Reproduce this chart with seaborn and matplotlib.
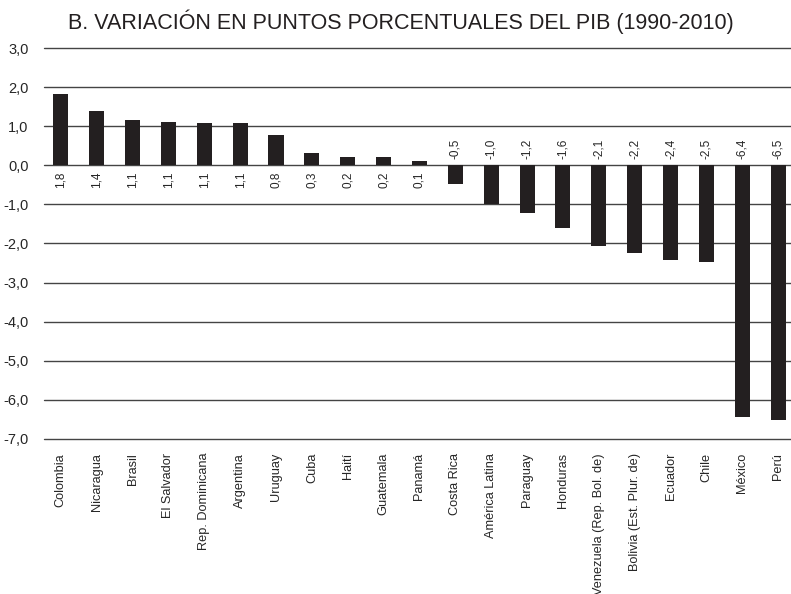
import numpy as np
import pandas as pd
import matplotlib
matplotlib.use("Agg")
import matplotlib.pyplot as plt
import seaborn as sns

countries = ["Colombia", "Nicaragua", "Brasil", "El Salvador", "Rep. Dominicana",
             "Argentina", "Uruguay", "Cuba", "Haití", "Guatemala", "Panamá",
             "Costa Rica", "América Latina", "Paraguay", "Honduras",
             "Venezuela (Rep. Bol. de)", "Bolivia (Est. Plur. de)", "Ecuador",
             "Chile", "México", "Perú"]
values = [1.82, 1.38, 1.15, 1.12, 1.09, 1.07, 0.78, 0.32, 0.22, 0.22, 0.12,
          -0.47, -1.0, -1.22, -1.6, -2.07, -2.24, -2.42, -2.48, -6.44, -6.52]
labels = ["1,8", "1,4", "1,1", "1,1", "1,1", "1,1", "0,8", "0,3", "0,2", "0,2", "0,1",
          "-0,5", "-1,0", "-1,2", "-1,6", "-2,1", "-2,2", "-2,4", "-2,5", "-6,4", "-6,5"]
yticks = np.arange(-7, 4)

df = pd.DataFrame({"country": countries, "value": values})

sns.set_style("white")
plt.rcParams["font.family"] = ["Liberation Sans", "DejaVu Sans"]

fig = plt.figure(figsize=(7.91, 5.94), dpi=100)
ax = fig.add_axes([44 / 791, 1 - 439 / 594, 747 / 791, 391 / 594])

for y in yticks:
    ax.axhline(y, color="#444444", lw=1.0, zorder=0, clip_on=False)

sns.barplot(data=df, x="country", y="value", color="#231f20", width=0.42,
            saturation=1, linewidth=0, ax=ax, zorder=2)

for i, (v, lab) in enumerate(zip(values, labels)):
    if v >= 0:
        ax.text(i, -0.15, lab, rotation=90, ha="center", va="top", fontsize=8.5)
    else:
        ax.text(i, 0.15, lab, rotation=90, ha="center", va="bottom", fontsize=8.5)

ax.set_ylim(-7, 3)
ax.set_xlim(-0.47, 20.36)
ax.set_yticks(yticks)
ax.set_yticklabels([f"{t},0" for t in yticks], fontsize=10.5)
ax.set_xticks(range(len(countries)))
ax.set_xticklabels(countries, rotation=90, fontsize=9.2, va="top")
ax.tick_params(axis="both", length=0)
ax.tick_params(axis="x", pad=10)
ax.tick_params(axis="y", pad=11)
for s in ax.spines.values():
    s.set_visible(False)
ax.set_xlabel("")
ax.set_ylabel("")

fig.text(401 / 791, 1 - 22 / 594, "B. VARIACIÓN EN PUNTOS PORCENTUALES DEL PIB (1990-2010)",
         ha="center", va="center", fontsize=15.5, color="#231f20")

fig.savefig("out.png", dpi=100)
